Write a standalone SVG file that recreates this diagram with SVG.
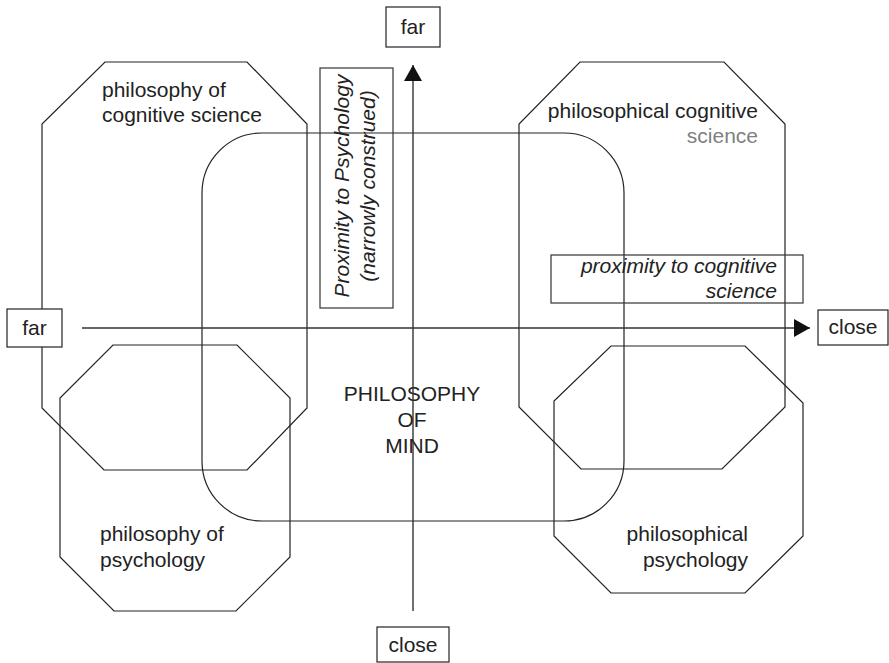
<svg xmlns="http://www.w3.org/2000/svg" width="889" height="663" viewBox="0 0 889 663">
<style>
  .shape { fill: none; stroke: #222; stroke-width: 1.2; stroke-linejoin: miter; }
  .box { fill: #fff; stroke: #222; stroke-width: 1.2; }
  .obox { fill: none; stroke: #333; stroke-width: 1.2; }
  .axis { fill: none; stroke: #333; stroke-width: 1.4; }
  text { font-family: "Liberation Sans", Arial, sans-serif; font-size: 21px; fill: #222; }
  .it { font-style: italic; }
  .gray { fill: #808080; }
</style>
<defs>
  <marker id="arrow" viewBox="0 0 16 18" refX="16" refY="9" markerWidth="16" markerHeight="18" markerUnits="userSpaceOnUse" orient="auto">
    <path d="M0,0 L16,9 L0,18 Z" fill="#111"/>
  </marker>
</defs>
<rect width="889" height="663" fill="#fff"/>

<g id="philosophy-of-mind">
  <rect class="shape" x="202" y="133" width="422" height="388" rx="60" ry="60"/>
  <text x="412" y="401" text-anchor="middle">PHILOSOPHY</text>
  <text x="412" y="427" text-anchor="middle">OF</text>
  <text x="412" y="453" text-anchor="middle">MIND</text>
</g>

<g id="philosophy-of-cognitive-science">
  <polygon class="shape" points="105,62 247,62 307,124 307,408 247,470 104,470 42,408 42,124"/>
  <text x="102" y="97">philosophy of</text>
  <text x="102" y="122">cognitive science</text>
</g>

<g id="philosophical-cognitive-science">
  <polygon class="shape" points="580,62 724,62 785,124 785,407 722,469 581,469 519,407 519,124"/>
  <text x="758" y="118" text-anchor="end">philosophical cognitive</text>
  <text x="758" y="143" text-anchor="end" class="gray">science</text>
</g>

<g id="philosophy-of-psychology">
  <polygon class="shape" points="113,345 237,345 290,398 290,557 236,611 114,611 60,557 60,398"/>
  <text x="100" y="541">philosophy of</text>
  <text x="100" y="567">psychology</text>
</g>

<g id="philosophical-psychology">
  <polygon class="shape" points="611,346 745,346 803,403 803,536 745,593 611,593 554,536 554,401"/>
  <text x="748" y="541" text-anchor="end">philosophical</text>
  <text x="748" y="567" text-anchor="end">psychology</text>
</g>

<g id="connectors">
  <line class="axis" x1="82" y1="328" x2="810" y2="328" marker-end="url(#arrow)"/>
  <line class="axis" x1="413" y1="611" x2="413" y2="65" marker-end="url(#arrow)"/>
</g>

<g id="proximity-psychology-label">
  <rect class="obox" x="320" y="68" width="73" height="240"/>
  <text class="it" text-anchor="middle" transform="translate(349,186) rotate(-90)">Proximity to Psychology</text>
  <text class="it" text-anchor="middle" transform="translate(375,186) rotate(-90)">(narrowly construed)</text>
</g>

<g id="proximity-cogsci-label">
  <rect class="obox" x="551" y="255" width="252" height="48"/>
  <text class="it" x="777" y="273" text-anchor="end">proximity to cognitive</text>
  <text class="it" x="777" y="298" text-anchor="end">science</text>
</g>

<g id="far-top">
  <rect class="box" x="386" y="7" width="54" height="40"/>
  <text x="413" y="34" text-anchor="middle">far</text>
</g>

<g id="far-left">
  <rect class="box" x="7" y="309" width="55" height="38"/>
  <text x="34.5" y="335" text-anchor="middle">far</text>
</g>

<g id="close-right">
  <rect class="box" x="818" y="310" width="70" height="35"/>
  <text x="853" y="334" text-anchor="middle">close</text>
</g>

<g id="close-bottom">
  <rect class="box" x="377" y="627" width="72" height="35"/>
  <text x="413" y="652" text-anchor="middle">close</text>
</g>
</svg>
